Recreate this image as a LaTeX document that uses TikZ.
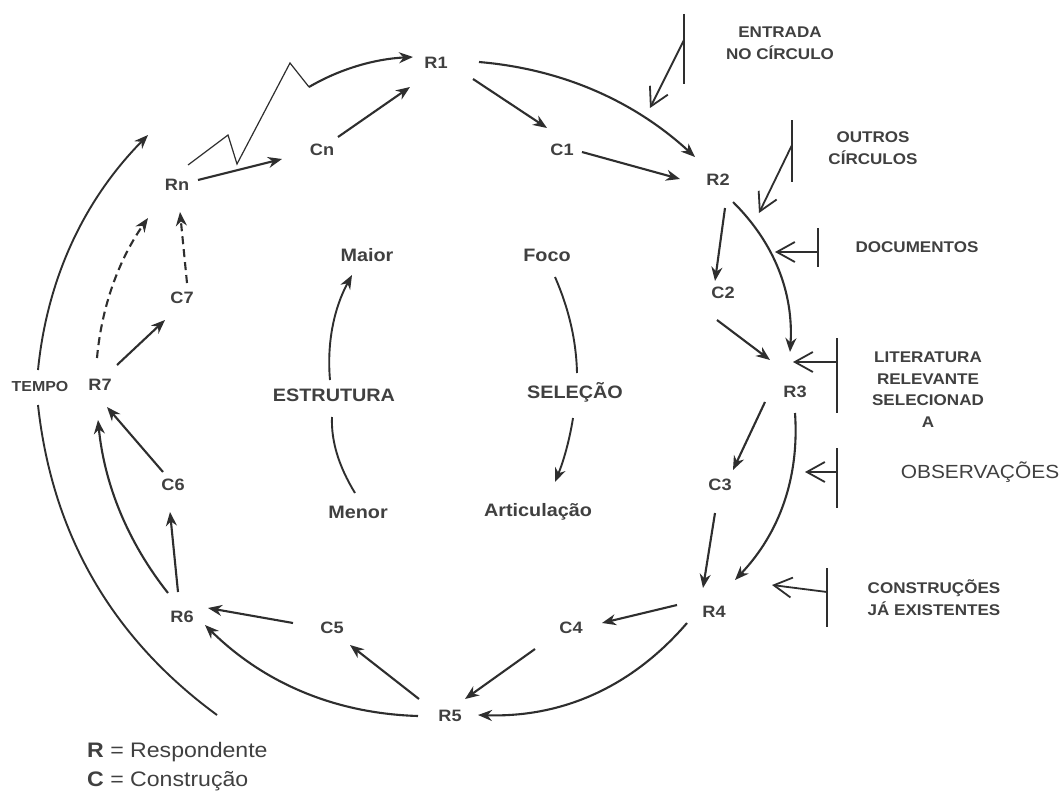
\documentclass[tikz,border=0pt]{standalone}
\usepackage{fontspec}
\setmainfont{Liberation Sans}[FakeStretch=1.1]
\usetikzlibrary{arrows.meta,calc}
\definecolor{ink}{HTML}{2E2E2E}
\definecolor{txt}{HTML}{404040}
\begin{document}
\begin{tikzpicture}[x=1pt,y=-1pt,
  lbl/.style={inner sep=0pt, text=txt, font=\bfseries\fontsize{16.5}{19}\selectfont},
  ctr/.style={inner sep=0pt, text=txt, font=\bfseries\fontsize{18}{21}\selectfont},
  side/.style={inner sep=0pt, text=txt, align=center, font=\bfseries\fontsize{15.5}{21.5}\selectfont},
  arr/.style={draw=ink, line width=2.1pt, -{Stealth[length=14pt,width=11pt,inset=4.5pt]}},
  curv/.style={draw=ink, line width=1.9pt},
  dsh/.style={arr, dash pattern=on 8pt off 5pt},
  inarr/.style={draw=ink, line width=1.8pt, -{Straight Barb[length=18pt,width=20pt,line width=1.8pt]}},
  barline/.style={draw=ink, line width=2pt},
]
\path[use as bounding box, fill=white] (0,0) rectangle (1061,792);

% cycle nodes
\node[lbl] (R1) at (436,63) {R1};
\node[lbl] (C1) at (562,150) {C1};
\node[lbl] (R2) at (718,180) {R2};
\node[lbl] (C2) at (723,293) {C2};
\node[lbl] (R3) at (795,392) {R3};
\node[lbl] (C3) at (720,485) {C3};
\node[lbl] (R4) at (714,612) {R4};
\node[lbl] (C4) at (571,628) {C4};
\node[lbl] (R5) at (450,716) {R5};
\node[lbl] (C5) at (332,628) {C5};
\node[lbl] (R6) at (182,617) {R6};
\node[lbl] (C6) at (173,485) {C6};
\node[lbl] (R7) at (100,385) {R7};
\node[lbl] (C7) at (182,298) {C7};
\node[lbl] (Rn) at (177,185) {Rn};
\node[lbl] (Cn) at (322,150) {Cn};
\node[lbl, font=\bfseries\fontsize{14.5}{17}\selectfont] (T) at (40,387) {TEMPO};

% centre
\node[ctr] (Maior) at (367,255) {Maior};
\node[ctr] (Foco) at (547,255) {Foco};
\node[ctr] (Estr) at (334,395) {ESTRUTURA};
\node[ctr] (Sel) at (575,392) {SELEÇÃO};
\node[ctr] (Menor) at (358,512) {Menor};
\node[ctr] (Art) at (538,512) {Articulação};

% side labels
\node[side] (entr) at (780,43) {ENTRADA\\NO CÍRCULO};
\node[side] (outr) at (873,148) {OUTROS\\CÍRCULOS};
\node[side] (doc) at (917,247) {DOCUMENTOS};
\node[side] (lit) at (928,389.5) {LITERATURA\\RELEVANTE\\SELECIONAD\\A};
\node[inner sep=0pt, text=txt, font=\fontsize{19}{22}\selectfont] (obs) at (980,472) {OBSERVAÇÕES};
\node[side] (cons) at (934,597.5) {CONSTRUÇÕES\\JÁ EXISTENTES};

% legend
\node[inner sep=0pt, anchor=west, text=txt, font=\fontsize{21}{24}\selectfont] (legR) at (87,752) {\textbf{R} = Respondente};
\node[inner sep=0pt, anchor=west, text=txt, font=\fontsize{21}{24}\selectfont] (legC) at (87,781) {\textbf{C} = Construção};

% straight inner arrows
\draw[arr] ($(R1)+(37,16)$) -- ($(C1)+(-15,-22)$);
\draw[arr] ($(C1)+(20,2)$) -- ($(R2)+(-38,-1)$);
\draw[arr] ($(R2)+(7,28)$) -- ($(C2)+(-8,-12)$);
\draw[arr] ($(C2)+(-6,27)$) -- ($(R3)+(-25,-32)$);
\draw[arr] ($(R3)+(-30,10)$) -- ($(C3)+(13,-15)$);
\draw[arr] ($(C3)+(-5,28)$) -- ($(R4)+(-11,-24)$);
\draw[arr] ($(R4)+(-37,-7)$) -- ($(C4)+(31,-5)$);
\draw[arr] ($(C4)+(-36,21)$) -- ($(R5)+(15,-17)$);
\draw[arr] ($(R5)+(-31,-17)$) -- ($(C5)+(18,17)$);
\draw[arr] ($(C5)+(-39,-5)$) -- ($(R6)+(26,-9)$);
\draw[arr] ($(R6)+(-4,-25)$) -- ($(C6)+(-3,27)$);
\draw[arr] ($(C6)+(-10,-13)$) -- ($(R7)+(7,22)$);
\draw[arr] ($(R7)+(17,-20)$) -- ($(C7)+(-17,22)$);
\draw[dsh] ($(C7)+(5,-15)$) -- ($(Rn)+(3,27)$);
\draw[arr] ($(Rn)+(21,-5)$) -- ($(Cn)+(-40,9)$);
\draw[arr] ($(Cn)+(16,-13)$) -- ($(R1)+(-26,24)$);

% outer curved arrows
\draw[arr] ($(R1)+(43,-1)$) .. controls (561.7,69) and (633.7,100.7) .. ($(R2)+(-23,-23)$);
\draw[arr] ($(R2)+(15,22)$) .. controls (774.7,243.3) and (793.7,293.3) .. ($(R3)+(-5,-40)$);
\draw[arr] ($(R3)+(0,21)$) .. controls (799.5,477.5) and (779.5,533.1) .. ($(R4)+(21,-32)$);
\draw[arr] ($(R4)+(-27,11)$) .. controls (632,687) and (562.3,717.7) .. ($(R5)+(28,-1)$);
\draw[arr] ($(R5)+(-32,0)$) .. controls (335.1,713.5) and (264.1,683.2) .. ($(R6)+(23,8)$);
\draw[arr] ($(R6)+(-14,-24)$) .. controls (127.7,542.1) and (104.4,484.5) .. ($(R7)+(-2,35)$);
\draw[dsh] ($(R7)+(-3,-27)$) .. controls (101.6,306.8) and (118.6,260.1) .. ($(Rn)+(-29,33)$);

% zigzag Rn -> R1
\coordinate (zz) at (309,87);
\draw[ink, line width=1.2pt, line join=miter] ($(Rn)+(11,-20)$) -- (228,135) -- (237,164) -- (290,63) -- (zz);
\draw[arr] (zz) .. controls (339.7,69) and (374.3,59) .. ($(R1)+(-23,-6)$);

% TEMPO arc
\coordinate (tTop) at (148,135);
\coordinate (tBot) at (217,715);
\draw[arr, line width=1.9pt] ($(T)+(-2,-17)$) .. controls (47.1,278.7) and (83.7,200.4) .. (tTop);
\draw[curv] ($(T)+(-2,18)$) .. controls (52.2,534.6) and (111.9,637.9) .. (tBot);

% centre arcs
\draw[arr, line width=1.9pt] ($(Estr)+(-4,-15)$) .. controls (326.7,343) and (334,308) .. ($(Maior)+(-15,20)$);
\draw[curv] ($(Menor)+(-3,-19)$) .. controls (338.7,466.3) and (331,441) .. ($(Estr)+(-2,22)$);
\draw[curv] ($(Foco)+(8,22)$) .. controls (569,309) and (576.3,341) .. ($(Sel)+(2,-19)$);
\draw[arr, line width=1.9pt] ($(Sel)+(-2,26)$) .. controls (569.7,439.3) and (563.7,460.7) .. ($(Art)+(17,-30)$);

% external inputs
\coordinate (eb1) at (684,14); \coordinate (eb2) at (684,84);
\coordinate (ea) at (684,40); \coordinate (et) at (650,108);
\draw[barline] (eb1) -- (eb2);
\draw[inarr] (ea) -- (et);

\coordinate (ob1) at (792,120); \coordinate (ob2) at (792,182);
\coordinate (oa) at (792,145); \coordinate (ot) at (759,213);
\draw[barline] (ob1) -- (ob2);
\draw[inarr] (oa) -- (ot);

\coordinate (db1) at (818,228); \coordinate (db2) at (818,267);
\coordinate (da) at (818,252); \coordinate (dt) at (775,252);
\draw[barline] (db1) -- (db2);
\draw[inarr] (da) -- (dt);

\coordinate (lb1) at (837,338); \coordinate (lb2) at (837,413);
\coordinate (la) at (837,362); \coordinate (lt) at (793,362);
\draw[barline] (lb1) -- (lb2);
\draw[inarr] (la) -- (lt);

\coordinate (sb1) at (837,448); \coordinate (sb2) at (837,508);
\coordinate (sa) at (837,472); \coordinate (st) at (805,472);
\draw[barline] (sb1) -- (sb2);
\draw[inarr] (sa) -- (st);

\coordinate (cb1) at (827,568); \coordinate (cb2) at (827,627);
\coordinate (ca) at (827,592); \coordinate (ct) at (772,585);
\draw[barline] (cb1) -- (cb2);
\draw[inarr] (ca) -- (ct);
\end{tikzpicture}
\end{document}
